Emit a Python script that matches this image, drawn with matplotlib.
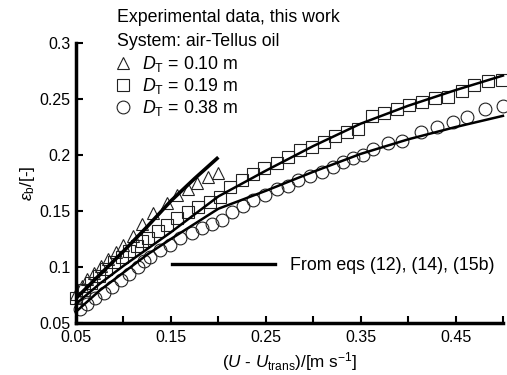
import matplotlib
matplotlib.use("Agg")
import matplotlib.pyplot as plt
from matplotlib.lines import Line2D

plt.rcParams['font.family'] = ['Liberation Sans', 'DejaVu Sans']
plt.rcParams['mathtext.fontset'] = 'custom'
plt.rcParams['mathtext.rm'] = 'Liberation Sans'
plt.rcParams['mathtext.it'] = 'Liberation Sans:italic'

tri_x = [0.050, 0.056, 0.062, 0.069, 0.076, 0.084, 0.092, 0.100, 0.110, 0.120,
         0.1315, 0.1456, 0.1561, 0.1683, 0.1772, 0.1894, 0.200]
tri_y = [0.076, 0.083, 0.089, 0.095, 0.101, 0.107, 0.113, 0.120, 0.128, 0.138,
         0.148, 0.157, 0.164, 0.170, 0.175, 0.180, 0.184]

sq_x = [0.050, 0.058, 0.066, 0.074, 0.082, 0.090, 0.098, 0.106, 0.114, 0.120,
        0.1262, 0.1367, 0.1456, 0.1561, 0.1683, 0.1789, 0.1912, 0.2017,
        0.2123, 0.2246, 0.2368, 0.2484, 0.2615, 0.2737, 0.2860, 0.2990, 0.3116,
        0.3229, 0.3353, 0.3475, 0.3616, 0.3745, 0.3879, 0.4012, 0.4149, 0.4283,
        0.4423, 0.4564, 0.4697, 0.4838, 0.4986]
sq_y = [0.072, 0.079, 0.086, 0.092, 0.098, 0.104, 0.109, 0.114, 0.119, 0.123,
        0.126, 0.132, 0.1375, 0.1435, 0.149, 0.1538, 0.1583, 0.1628,
        0.1712, 0.1777, 0.1830, 0.1881, 0.1931, 0.1985, 0.2045, 0.2074, 0.2119,
        0.2170, 0.2208, 0.2230, 0.2348, 0.2372, 0.2408, 0.2446, 0.2476, 0.2512,
        0.2520, 0.2571, 0.2625, 0.2661, 0.2670]

ci_x = [0.054, 0.062, 0.070, 0.079, 0.088, 0.097, 0.106, 0.115, 0.122,
        0.128, 0.1385, 0.149, 0.1596, 0.1719, 0.1825, 0.193, 0.2035,
        0.214, 0.2263, 0.2368, 0.2492, 0.2615, 0.2737, 0.2843, 0.2966, 0.3089,
        0.3211, 0.3317, 0.3422, 0.3527, 0.363, 0.379, 0.394, 0.414, 0.430,
        0.4476, 0.4617, 0.481, 0.4996]
ci_y = [0.062, 0.067, 0.072, 0.077, 0.082, 0.088, 0.094, 0.100, 0.105,
        0.109, 0.115, 0.120, 0.1255, 0.1305, 0.1345, 0.1385, 0.142,
        0.1494, 0.1545, 0.1598, 0.1643, 0.1694, 0.1723, 0.1777, 0.1813, 0.1851,
        0.1895, 0.1940, 0.1971, 0.2000, 0.2054, 0.2104, 0.2125, 0.2203, 0.2253,
        0.2297, 0.2336, 0.2408, 0.2440]

# Model curves, eqs (12), (14), (15b)
m_tri_x = [0.05, 0.075, 0.10, 0.125, 0.15, 0.175, 0.20]
m_tri_y = [0.072, 0.093, 0.114, 0.136, 0.159, 0.179, 0.198]
m_sq_x = [0.05, 0.075, 0.10, 0.125, 0.15, 0.20, 0.25, 0.30, 0.35, 0.40, 0.45, 0.50]
m_sq_y = [0.067, 0.085, 0.101, 0.116, 0.131, 0.163, 0.186, 0.208, 0.228, 0.244, 0.258, 0.271]
m_ci_x = [0.05, 0.075, 0.10, 0.125, 0.15, 0.20, 0.25, 0.30, 0.35, 0.40, 0.45, 0.50]
m_ci_y = [0.060, 0.079, 0.095, 0.111, 0.125, 0.152, 0.168, 0.185, 0.201, 0.214, 0.225, 0.235]

x_ticks = [0.05, 0.10, 0.15, 0.20, 0.25, 0.30, 0.35, 0.40, 0.45, 0.50]
x_labels = ['0.05', '', '0.15', '', '0.25', '', '0.35', '', '0.45', '']
y_ticks = [0.05, 0.10, 0.15, 0.20, 0.25, 0.30]
y_labels = ['0.05', '0.1', '0.15', '0.2', '0.25', '0.3']

fig = plt.figure(figsize=(5.07, 3.75), dpi=100)
ax = fig.add_axes([0.150, 0.139, 0.842, 0.746])

mk = dict(linestyle='none', markerfacecolor='none', markeredgecolor='#222222',
          markeredgewidth=0.8, markersize=9.2, clip_on=False)
h_tri, = ax.plot(tri_x, tri_y, marker='^', **mk)
h_sq, = ax.plot(sq_x, sq_y, marker='s', **mk)
h_ci, = ax.plot(ci_x, ci_y, marker='o', **mk)

ax.plot(m_tri_x, m_tri_y, color='black', lw=2.6, solid_capstyle='butt')
ax.plot(m_sq_x, m_sq_y, color='black', lw=1.8, clip_on=False)
ax.plot(m_ci_x, m_ci_y, color='black', lw=1.8, clip_on=False)

ax.set_xlim(0.05, 0.50)
ax.set_ylim(0.05, 0.30)
ax.set_xticks(x_ticks)
ax.set_xticklabels(x_labels)
ax.set_yticks(y_ticks)
ax.set_yticklabels(y_labels)
ax.tick_params(direction='in', length=5, width=1.5, labelsize=11.5)
ax.tick_params(axis='x', pad=5)
ax.tick_params(axis='y', pad=4)
ax.spines['top'].set_visible(False)
ax.spines['right'].set_visible(False)
ax.spines['left'].set_linewidth(2.5)
ax.spines['bottom'].set_linewidth(2.5)

ax.set_xlabel(r'($U$ - $U_\mathrm{trans}$)/[m s$^{-1}$]', fontsize=12.3, labelpad=4)
ax.set_ylabel(r'$\varepsilon_\mathrm{b}$/[-]', fontsize=12.3, labelpad=2)

# Legend block at the top
fs = 12.8
fig.text(117 / 507, 1 - 18 / 375, 'Experimental data, this work', fontsize=fs, va='center')
fig.text(117 / 507, 1 - 41 / 375, 'System: air-Tellus oil', fontsize=fs, va='center')
leg1 = ax.legend([h_tri, h_sq, h_ci],
                 [r'$D_\mathrm{T}$ = 0.10 m', r'$D_\mathrm{T}$ = 0.19 m', r'$D_\mathrm{T}$ = 0.38 m'],
                 loc='center left', bbox_to_anchor=(114 / 507, 1 - 86 / 375),
                 bbox_transform=fig.transFigure, frameon=False, fontsize=fs,
                 handlelength=1.0, handletextpad=0.6, labelspacing=0.1,
                 borderpad=0, borderaxespad=0)
ax.add_artist(leg1)
ax.legend([Line2D([0], [0], color='black', lw=2.4)], ['From eqs (12), (14), (15b)'],
          loc='center left', bbox_to_anchor=(172 / 507, 1 - 266 / 375),
          bbox_transform=fig.transFigure, frameon=False, fontsize=fs,
          handlelength=5.8, handletextpad=0.85, borderpad=0, borderaxespad=0)

fig.savefig('out.png', dpi=100)
